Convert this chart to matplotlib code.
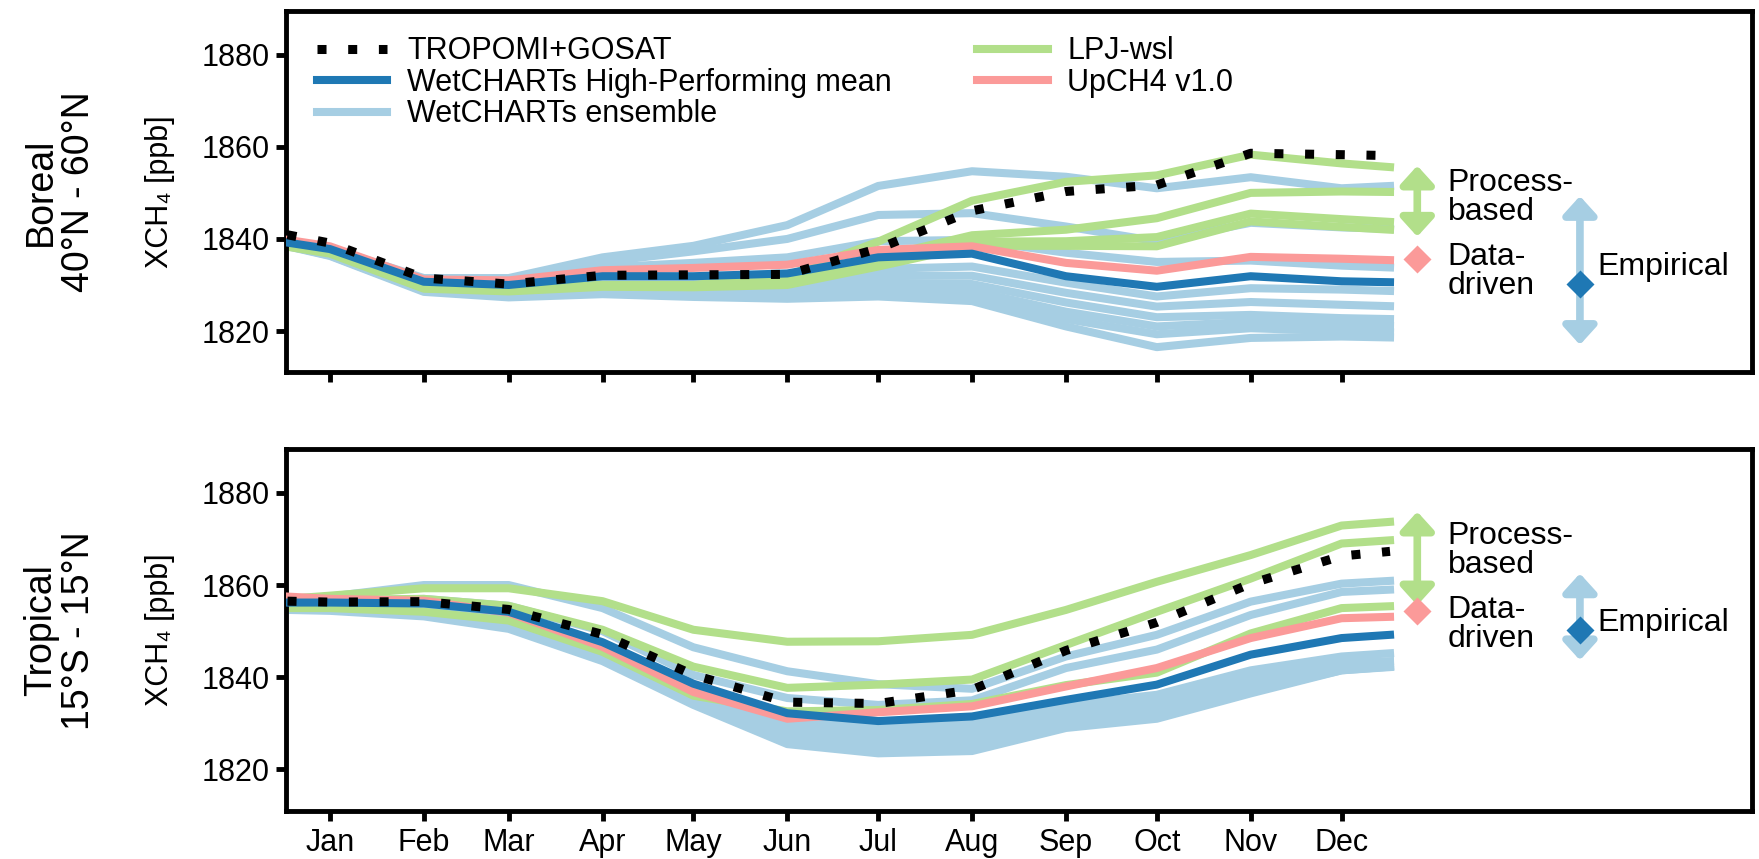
import matplotlib
matplotlib.use('Agg')
import matplotlib.pyplot as plt
from matplotlib.lines import Line2D

plt.rcParams['font.family'] = ['Liberation Sans', 'DejaVu Sans']

# sample days (day of year) where values were read
days = [1, 15, 46, 74, 105, 135, 166, 196, 227, 258, 288, 319, 349, 365]
month_days = [15, 46, 74, 105, 135, 166, 196, 227, 258, 288, 319, 349]
month_labels = ['Jan', 'Feb', 'Mar', 'Apr', 'May', 'Jun',
                'Jul', 'Aug', 'Sep', 'Oct', 'Nov', 'Dec']

# ---- Boreal 40N-60N ----
boreal_obs = [1840.9, 1839.1, 1831.5, 1830.2, 1832.1, 1832.2, 1832.3, 1837.9, 1846.1, 1850.3, 1851.7, 1858.6, 1858.3, 1858.1]
boreal_hp = [1839.2, 1837.8, 1830.7, 1830.0, 1831.9, 1831.9, 1832.5, 1836.0, 1836.8, 1831.9, 1829.6, 1831.9, 1830.8, 1830.6]
boreal_upch4 = [1839.8, 1838.4, 1831.2, 1831.0, 1833.2, 1833.7, 1834.4, 1837.6, 1838.4, 1834.8, 1833.1, 1836.1, 1835.7, 1835.4]
boreal_lpj = [
    [1838.5, 1837.0, 1829.5, 1828.9, 1830.0, 1830.0, 1832.0, 1839.4, 1848.3, 1852.4, 1853.8, 1858.3, 1856.4, 1855.6],
    [1838.5, 1837.0, 1829.5, 1828.9, 1830.0, 1829.8, 1830.5, 1836.0, 1840.8, 1842.0, 1844.5, 1850.0, 1850.3, 1850.2],
    [1838.5, 1837.0, 1829.3, 1828.8, 1829.8, 1829.7, 1830.2, 1834.5, 1839.4, 1839.5, 1840.4, 1845.5, 1844.3, 1843.7],
    [1838.3, 1836.8, 1829.2, 1828.6, 1829.6, 1829.5, 1830.0, 1834.0, 1838.5, 1838.5, 1838.4, 1843.8, 1842.6, 1842.0],
]
boreal_ens = [
    [1839.5, 1838.0, 1831.5, 1831.5, 1836.0, 1838.5, 1843.0, 1851.5, 1854.7, 1853.5, 1851.0, 1853.4, 1851.0, 1851.5],
    [1839.5, 1838.0, 1831.0, 1831.0, 1835.0, 1837.3, 1840.0, 1845.2, 1845.6, 1842.7, 1839.5, 1843.5, 1842.5, 1842.2],
    [1839.3, 1837.8, 1830.8, 1830.5, 1833.8, 1834.8, 1836.0, 1839.5, 1839.8, 1837.0, 1835.0, 1835.3, 1834.2, 1833.8],
    [1839.0, 1837.2, 1829.8, 1829.2, 1830.8, 1830.8, 1831.2, 1833.5, 1834.0, 1830.5, 1827.5, 1829.3, 1829.0, 1828.7],
    [1839.0, 1837.0, 1829.5, 1828.7, 1830.0, 1829.6, 1830.0, 1832.0, 1832.0, 1828.3, 1825.3, 1826.3, 1825.7, 1825.4],
    [1838.7, 1836.7, 1829.2, 1828.2, 1829.2, 1828.7, 1829.0, 1830.5, 1830.2, 1826.2, 1823.0, 1823.5, 1822.8, 1822.6],
    [1838.5, 1836.5, 1829.0, 1827.9, 1828.6, 1828.1, 1828.2, 1829.2, 1828.7, 1824.2, 1821.0, 1822.0, 1821.3, 1821.1],
    [1838.5, 1836.4, 1828.7, 1827.6, 1828.3, 1827.8, 1827.6, 1828.2, 1827.6, 1822.6, 1819.3, 1820.6, 1820.0, 1819.7],
    [1838.4, 1836.3, 1828.5, 1827.3, 1828.0, 1827.4, 1827.0, 1827.5, 1826.5, 1821.0, 1816.5, 1818.5, 1818.8, 1818.6],
]
# ranges shown on the right: process-based (top, bottom), data-driven, empirical (top, bottom), empirical mean
boreal_process = (1855.9, 1840.5)
boreal_datadriven = 1835.6
boreal_empirical = (1849.3, 1817.0)
boreal_emp_mean = 1830.2

# ---- Tropical 15S-15N ----
trop_obs = [1856.5, 1856.3, 1856.4, 1854.7, 1849.3, 1840.5, 1834.6, 1834.3, 1837.3, 1845.8, 1851.9, 1860.3, 1866.3, 1867.3]
trop_hp = [1856.2, 1856.2, 1856.0, 1854.2, 1847.6, 1838.6, 1832.2, 1830.5, 1831.5, 1835.1, 1838.4, 1844.9, 1848.5, 1849.2]
trop_upch4 = [1857.5, 1857.0, 1856.6, 1854.0, 1846.6, 1836.8, 1831.0, 1832.4, 1833.7, 1838.0, 1842.0, 1848.5, 1852.8, 1853.1]
trop_lpj = [
    [1857.0, 1857.7, 1859.3, 1859.3, 1856.5, 1850.3, 1847.7, 1847.8, 1849.2, 1854.6, 1860.7, 1866.5, 1872.9, 1873.7],
    [1856.6, 1856.8, 1857.0, 1855.5, 1850.3, 1842.3, 1837.7, 1838.4, 1839.5, 1847.0, 1854.2, 1861.4, 1869.0, 1869.7],
    [1855.0, 1855.0, 1854.2, 1852.3, 1845.5, 1836.0, 1832.6, 1832.9, 1834.2, 1838.3, 1841.0, 1849.5, 1855.0, 1855.4],
]
trop_ens = [
    [1857.0, 1857.5, 1860.0, 1860.0, 1855.0, 1846.5, 1841.3, 1838.5, 1837.5, 1844.5, 1849.2, 1856.4, 1860.3, 1860.9],
    [1856.5, 1856.5, 1857.0, 1855.5, 1850.0, 1840.5, 1835.5, 1834.0, 1835.0, 1842.0, 1846.0, 1853.5, 1858.5, 1859.0],
    [1856.0, 1856.0, 1855.5, 1853.5, 1846.5, 1837.0, 1831.0, 1830.0, 1830.5, 1834.0, 1836.2, 1841.5, 1844.5, 1845.2],
    [1855.5, 1855.5, 1855.0, 1852.5, 1845.5, 1836.0, 1829.5, 1828.5, 1829.0, 1832.5, 1835.0, 1840.5, 1843.2, 1843.5],
    [1855.5, 1855.3, 1854.5, 1852.0, 1845.0, 1835.5, 1828.5, 1827.0, 1827.5, 1831.0, 1833.5, 1839.0, 1842.5, 1843.0],
    [1855.0, 1855.0, 1854.0, 1851.5, 1844.5, 1835.0, 1827.0, 1825.5, 1826.0, 1830.0, 1832.5, 1838.0, 1842.0, 1842.5],
    [1854.8, 1854.6, 1853.5, 1851.0, 1844.0, 1834.5, 1826.0, 1824.5, 1825.0, 1829.5, 1831.5, 1837.0, 1841.5, 1842.3],
    [1854.6, 1854.4, 1853.2, 1850.5, 1843.5, 1834.0, 1825.5, 1823.5, 1824.0, 1829.0, 1831.0, 1836.5, 1841.5, 1842.2],
]
trop_process = (1875.9, 1855.6)
trop_datadriven = 1854.3
trop_empirical = (1862.5, 1843.7)
trop_emp_mean = 1850.2

C_ENS = '#a6cee3'
C_HP = '#1f78b4'
C_LPJ = '#b2df8a'
C_UP = '#fb9a99'
DOT = (0, (1, 2.4))
LW = 5.8
DOT_LW = 6.5


def draw_panel(ax, obs, hp, upch4, lpj, ens, process, datadriven, empirical, emp_mean, txt_y):
    for y in ens:
        ax.plot(days, y, color=C_ENS, lw=LW, zorder=1)
    for y in lpj:
        ax.plot(days, y, color=C_LPJ, lw=LW, zorder=2)
    ax.plot(days, upch4, color=C_UP, lw=LW, zorder=3)
    ax.plot(days, hp, color=C_HP, lw=LW, zorder=4)
    ax.plot(days, obs, color='black', lw=DOT_LW, ls=DOT, dash_capstyle='butt', zorder=5)

    x_proc, x_emp = 374, 427.7
    arrow = '<|-|>,head_length=1.1,head_width=1.0'
    ax.annotate('', xy=(x_proc, process[0]), xytext=(x_proc, process[1]),
                arrowprops=dict(arrowstyle=arrow, color=C_LPJ, lw=5.5, mutation_scale=10,
                                shrinkA=0, shrinkB=0))
    ax.annotate('', xy=(x_emp, empirical[0]), xytext=(x_emp, empirical[1]),
                arrowprops=dict(arrowstyle=arrow, color=C_ENS, lw=5.5, mutation_scale=10,
                                shrinkA=0, shrinkB=0))
    ax.plot([x_proc], [datadriven], marker='D', ms=14, color=C_UP, mec='none', zorder=6)
    ax.plot([x_emp], [emp_mean], marker='D', ms=14, color=C_HP, mec='none', zorder=6)
    ax.text(384, txt_y[0], 'Process-\nbased', fontsize=23, va='center', ha='left', linespacing=0.95)
    ax.text(384, txt_y[1], 'Data-\ndriven', fontsize=23, va='center', ha='left', linespacing=0.95)
    ax.text(433.6, txt_y[2], 'Empirical', fontsize=23, va='center', ha='left')

    ax.set_xlim(0.5, 484.5)
    ax.set_ylim(1811, 1889.5)
    ax.set_yticks([1820, 1840, 1860, 1880])
    ax.set_xticks(month_days)
    for s in ax.spines.values():
        s.set_linewidth(3.5)
    ax.tick_params(axis='both', direction='out', length=7, width=3.5, labelsize=22, pad=5)
    ax.set_ylabel('XCH₄ [ppb]', fontsize=22)
    ax.yaxis.set_label_coords(-0.076, 0.5)


def main():
    fig = plt.figure(figsize=(17.59, 8.59), dpi=100)
    ax1 = fig.add_axes([0.1626, 0.5664, 0.8334, 0.4208])
    ax2 = fig.add_axes([0.1626, 0.0559, 0.8334, 0.4214])

    draw_panel(ax1, boreal_obs, boreal_hp, boreal_upch4, boreal_lpj, boreal_ens,
               boreal_process, boreal_datadriven, boreal_empirical, boreal_emp_mean,
               (1849.0, 1833.0, 1834.0))
    draw_panel(ax2, trop_obs, trop_hp, trop_upch4, trop_lpj, trop_ens,
               trop_process, trop_datadriven, trop_empirical, trop_emp_mean,
               (1867.5, 1851.5, 1851.7))
    ax1.set_xticklabels([])
    ax2.set_xticklabels(month_labels)

    handles = [
        Line2D([], [], color='black', lw=DOT_LW, ls=DOT, dash_capstyle='butt'),
        Line2D([], [], color=C_HP, lw=LW),
        Line2D([], [], color=C_ENS, lw=LW),
        Line2D([], [], color=C_LPJ, lw=LW),
        Line2D([], [], color=C_UP, lw=LW),
    ]
    labels = ['TROPOMI+GOSAT', 'WetCHARTs High-Performing mean', 'WetCHARTs ensemble',
              'LPJ-wsl', 'UpCH4 v1.0']
    ax1.legend(handles, labels, ncol=2, loc='upper left', bbox_to_anchor=(0.021, 0.93),
               frameon=False, fontsize=22, handlelength=2.3, handletextpad=0.65,
               labelspacing=0.05, columnspacing=2.8, borderaxespad=0, borderpad=0)

    fig.text(0.034, 0.777, 'Boreal\n40°N - 60°N', rotation=90, fontsize=27,
             ha='center', va='center', multialignment='center', linespacing=1.05)
    fig.text(0.034, 0.266, 'Tropical\n15°S - 15°N', rotation=90, fontsize=27,
             ha='center', va='center', multialignment='center', linespacing=1.05)

    fig.savefig('out.png', dpi=100)


if __name__ == '__main__':
    main()
